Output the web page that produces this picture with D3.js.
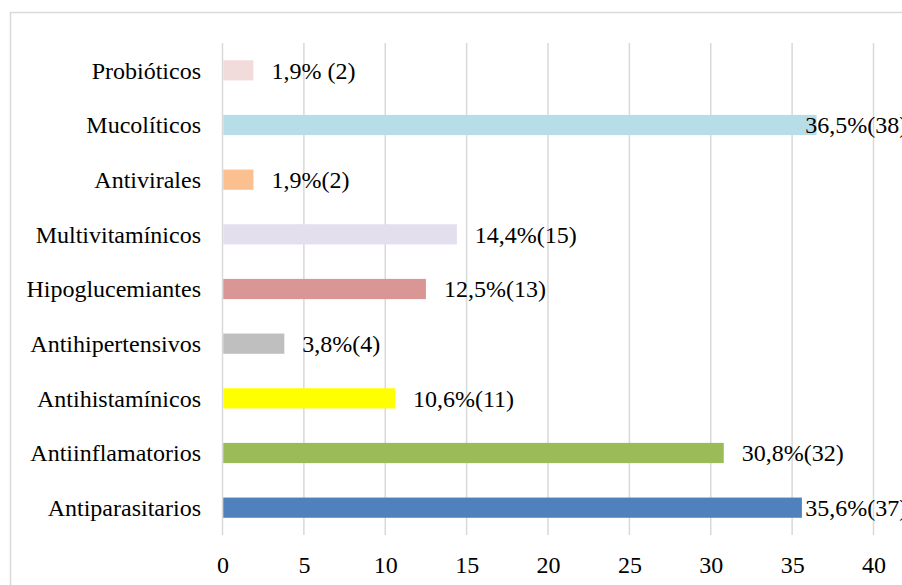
<!DOCTYPE html>
<html>
<head>
<meta charset="utf-8">
<script src="https://cdn.jsdelivr.net/npm/d3@7"></script>
</head>
<body style="margin:0">
<svg id="chart" width="902" height="585"></svg>
<script>
// Medication groups, top to bottom
const categories = ["Probióticos", "Mucolíticos", "Antivirales", "Multivitamínicos",
  "Hipoglucemiantes", "Antihipertensivos", "Antihistamínicos", "Antiinflamatorios", "Antiparasitarios"];
// Percentage of cases per group
const percents = [1.9, 36.5, 1.9, 14.4, 12.5, 3.8, 10.6, 30.8, 35.6];
// Number of cases per group
const counts = [2, 38, 2, 15, 13, 4, 11, 32, 37];
// Label text as printed next to each bar
const labels = ["1,9% (2)", "36,5%(38)", "1,9%(2)", "14,4%(15)", "12,5%(13)",
  "3,8%(4)", "10,6%(11)", "30,8%(32)", "35,6%(37)"];
const colors = ["#f2dcdb", "#b7dee8", "#fac090", "#e4dfec", "#da9694",
  "#bfbfbf", "#ffff00", "#9bbb59", "#4f81bd"];
const xTicks = [0, 5, 10, 15, 20, 25, 30, 35, 40];

const FONT = "'Liberation Serif'";
const FS = 24;

const svg = d3.select("#chart").style("display", "block");

// Outer chart frame (runs past the right and bottom edges)
svg.append("rect")
  .attr("x", 10.5).attr("y", 12.5)
  .attr("width", 1000).attr("height", 700)
  .attr("fill", "none").attr("stroke", "#d9d9d9").attr("stroke-width", 1.5);

const plot = { left: 222.5, right: 873.5, top: 43, bottom: 535 };

const x = d3.scaleLinear().domain([0, 40]).range([plot.left, plot.right]);
const y = d3.scaleBand().domain(categories)
  .range([plot.top, plot.bottom]).paddingInner(0.63).paddingOuter(0.315);

// Vertical gridlines
svg.append("g").selectAll("line").data(xTicks).join("line")
  .attr("x1", d => x(d)).attr("x2", d => x(d))
  .attr("y1", plot.top).attr("y2", plot.bottom)
  .attr("stroke", "#d9d9d9").attr("stroke-width", 1.5);

// Bars
const rows = categories.map((c, i) => ({ c, p: percents[i], n: counts[i], label: labels[i], color: colors[i] }));
svg.append("g").selectAll("rect").data(rows).join("rect")
  .attr("x", x(0) + 0.75)
  .attr("y", d => y(d.c))
  .attr("width", d => x(d.p) - x(0) - 0.75)
  .attr("height", y.bandwidth())
  .attr("fill", d => d.color);

// Value labels; long bars keep their label near the 35 gridline
svg.append("g").selectAll("text").data(rows).join("text")
  .attr("x", d => Math.min(x(d.p) + 18, x(35.8)))
  .attr("y", d => y(d.c) + y.bandwidth() / 2)
  .attr("dy", "0.35em")
  .attr("font-family", FONT)
  .attr("font-size", FS)
  .attr("fill", "#000")
  .text(d => d.label);

// Category axis labels
svg.append("g").selectAll("text").data(categories).join("text")
  .attr("x", 201)
  .attr("y", d => y(d) + y.bandwidth() / 2)
  .attr("dy", "0.35em")
  .attr("text-anchor", "end")
  .attr("font-family", FONT)
  .attr("font-size", FS)
  .attr("fill", "#000")
  .text(d => d);

// Value axis tick labels
const xAxis = d3.axisBottom(x).tickValues(xTicks).tickSize(0).tickPadding(0);
const gx = svg.append("g").attr("transform", `translate(0,${plot.bottom})`).call(xAxis);
gx.attr("font-family", FONT).attr("font-size", FS);
gx.select(".domain").remove();
gx.selectAll("text")
  .attr("y", 30).attr("dy", "0.35em")
  .attr("font-family", FONT)
  .attr("font-size", FS)
  .attr("fill", "#000");
</script>
</body>
</html>
